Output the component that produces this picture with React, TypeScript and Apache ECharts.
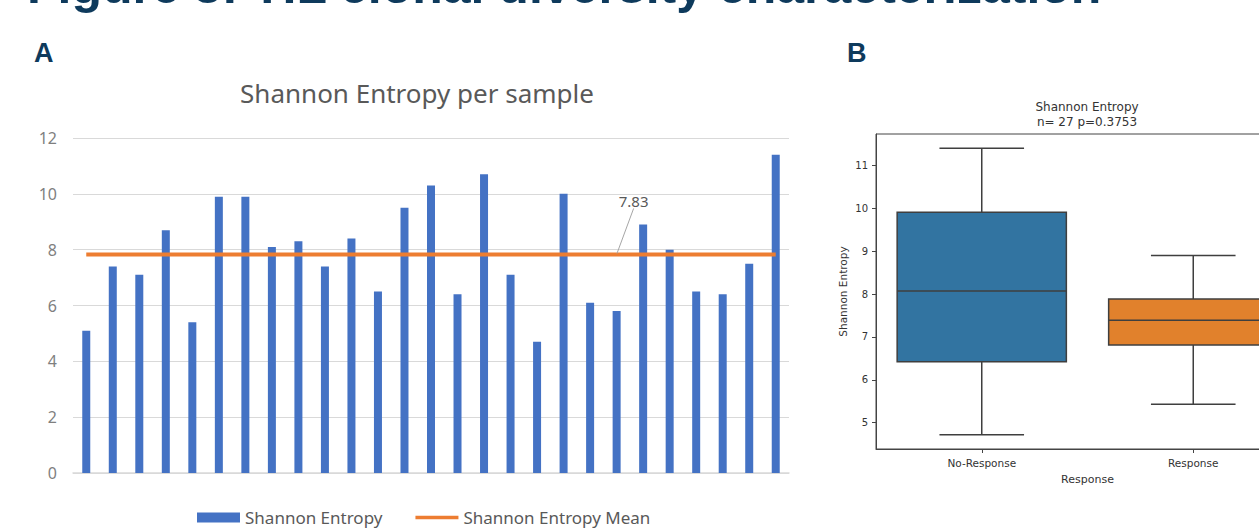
import React, { useEffect, useRef } from "react";
import * as echarts from "echarts";

// ---------- Panel A data ----------
const sampleIds: string[] = Array.from({ length: 27 }, (_, i) => `S${i + 1}`);
const entropyValues: number[] = [
  5.1, 7.4, 7.1, 8.7, 5.4, 9.9, 9.9, 8.1, 8.3, 7.4, 8.4, 6.5, 9.5, 10.3,
  6.4, 10.7, 7.1, 4.7, 10.0, 6.1, 5.8, 8.9, 8.0, 6.5, 6.4, 7.5, 11.4,
];
const entropyMean = 7.83;
const meanLabelIndex = 20;
const yTicksA: number[] = [0, 2, 4, 6, 8, 10, 12];

// ---------- Panel B data ----------
const responseGroups: string[] = ["No-Response", "Response"];
// [lowWhisker, q1, median, q3, highWhisker]
const noResponseBox: number[] = [4.72, 6.42, 8.07, 9.91, 11.4];
const responseBox: number[] = [5.43, 6.81, 7.39, 7.885, 8.9];
const yTicksB: number[] = [5, 6, 7, 8, 9, 10, 11];
const boxColors: string[] = ["#3274A1", "#E1812C"];

const FIG_TITLE = "Figure 3: TIL clonal diversity characterization";
const NAVY = "#0E3A5C";

export default function App() {
  const ref = useRef<HTMLDivElement>(null);

  useEffect(() => {
    if (!ref.current) return;
    const chart = echarts.init(ref.current, undefined, { renderer: "svg" });

    const meanData = sampleIds.map((_, i) =>
      i === meanLabelIndex
        ? {
            value: entropyMean,
            symbol: "circle",
            symbolSize: 2,
            itemStyle: { color: "rgba(0,0,0,0)" },
            label: {
              show: true,
              position: "top",
              formatter: () => entropyMean.toFixed(2),
              color: "#595959",
              fontSize: 15,
              fontFamily: "Noto Sans",
              opacity: 1,
            },
            labelLine: {
              show: true,
              lineStyle: { color: "#a6a6a6", width: 1 },
            },
          }
        : entropyMean
    );

    const boxes = [noResponseBox, responseBox];
    const allB = boxes.flat();
    const loB = Math.min(...allB);
    const hiB = Math.max(...allB);
    const padB = (hiB - loB) * 0.05;

    const option: any = {
      animation: false,
      backgroundColor: "#ffffff",
      textStyle: { fontFamily: "Noto Sans" },
      graphic: [
        {
          type: "text",
          x: 27,
          y: -14,
          style: {
            text: FIG_TITLE,
            fill: NAVY,
            font: "bold 50px 'Liberation Sans', Arial, sans-serif",
            verticalAlign: "middle",
            align: "left",
          },
        },
        {
          type: "text",
          x: 34,
          y: 53,
          style: {
            text: "A",
            fill: NAVY,
            font: "bold 27px 'Liberation Sans', Arial, sans-serif",
            verticalAlign: "middle",
          },
        },
        {
          type: "text",
          x: 847,
          y: 53,
          style: {
            text: "B",
            fill: NAVY,
            font: "bold 27px 'Liberation Sans', Arial, sans-serif",
            verticalAlign: "middle",
          },
        },
        {
          type: "text",
          x: 417,
          y: 93,
          style: {
            text: "Shannon Entropy per sample",
            fill: "#595959",
            font: "26px 'Noto Sans', sans-serif",
            align: "center",
            verticalAlign: "middle",
          },
        },
        {
          type: "text",
          x: 1087,
          y: 114,
          style: {
            text: "Shannon Entropy\nn= 27 p=0.3753",
            fill: "#333333",
            font: "12px 'DejaVu Sans', sans-serif",
            align: "center",
            verticalAlign: "middle",
            lineHeight: 15,
          },
        },
      ],
      legend: {
        left: 192,
        top: 504,
        itemWidth: 43,
        itemHeight: 10,
        itemGap: 33,
        textStyle: { fontSize: 17, color: "#595959", fontFamily: "Noto Sans" },
        data: [
          { name: "Shannon Entropy", icon: "rect" },
          { name: "Shannon Entropy Mean", icon: "path://M0,0 H46 V4 H0 Z" },
        ],
      },
      grid: [
        { left: 73, right: 531, top: 138, bottom: 55 },
        {
          left: 876,
          top: 134,
          width: 423,
          height: 315,
          show: true,
          borderColor: "#444444",
          borderWidth: 1,
        },
      ],
      xAxis: [
        {
          type: "category",
          gridIndex: 0,
          data: sampleIds,
          axisLine: { lineStyle: { color: "#d9d9d9", width: 1.5 } },
          axisTick: { show: false },
          axisLabel: { show: false },
        },
        {
          type: "category",
          gridIndex: 1,
          data: responseGroups,
          name: "Response",
          nameLocation: "middle",
          nameGap: 25,
          nameTextStyle: { color: "#333", fontSize: 11, fontFamily: "DejaVu Sans" },
          axisLine: { lineStyle: { color: "#444444", width: 1 } },
          axisTick: { show: true, alignWithLabel: true, length: 4, lineStyle: { color: "#444" } },
          axisLabel: { color: "#333", fontSize: 10.5, fontFamily: "DejaVu Sans", margin: 8 },
        },
      ],
      yAxis: [
        {
          type: "value",
          gridIndex: 0,
          min: yTicksA[0],
          max: yTicksA[yTicksA.length - 1],
          interval: 2,
          axisLine: { show: false },
          axisTick: { show: false },
          axisLabel: { color: "#7f7f7f", fontSize: 16, margin: 16, fontFamily: "Noto Sans" },
          splitLine: { lineStyle: { color: "#d9d9d9", width: 1 } },
        },
        {
          type: "value",
          gridIndex: 1,
          min: loB - padB,
          max: hiB + padB,
          name: "Shannon Entropy",
          nameLocation: "middle",
          nameGap: 28,
          nameTextStyle: { color: "#333", fontSize: 10.5, fontFamily: "DejaVu Sans" },
          axisLine: { show: true, lineStyle: { color: "#444444", width: 1 } },
          axisTick: { show: true, length: 4, customValues: yTicksB, lineStyle: { color: "#444" } },
          axisLabel: {
            color: "#333",
            fontSize: 10,
            fontFamily: "DejaVu Sans",
            margin: 8,
            customValues: yTicksB,
          },
          splitLine: { show: false },
        },
      ],
      series: [
        {
          name: "Shannon Entropy",
          type: "bar",
          xAxisIndex: 0,
          yAxisIndex: 0,
          data: entropyValues,
          barWidth: 8,
          itemStyle: { color: "#4472C4" },
        },
        {
          name: "Shannon Entropy Mean",
          type: "line",
          xAxisIndex: 0,
          yAxisIndex: 0,
          data: meanData,
          symbol: "none",
          lineStyle: { color: "#ED7D31", width: 4 },
          itemStyle: { color: "#ED7D31" },
          labelLayout: (params: any) =>
            params.dataIndex === meanLabelIndex ? { dx: 17, dy: -40 } : {},
          z: 3,
        },
        {
          type: "custom",
          xAxisIndex: 1,
          yAxisIndex: 1,
          data: boxes.map((b, i) => [i, ...b]),
          encode: { x: 0, y: [1, 2, 3, 4, 5] },
          renderItem: (params: any, api: any) => {
            const idx = api.value(0);
            const band = api.size([1, 0])[0];
            const halfBox = band * 0.4;
            const halfCap = band * 0.2;
            const pLow = api.coord([idx, api.value(1)]);
            const pQ1 = api.coord([idx, api.value(2)]);
            const pMed = api.coord([idx, api.value(3)]);
            const pQ3 = api.coord([idx, api.value(4)]);
            const pHigh = api.coord([idx, api.value(5)]);
            const cx = pMed[0];
            const edge = "#3f3f3f";
            const lw = 1.5;
            return {
              type: "group",
              children: [
                { type: "line", shape: { x1: cx, y1: pQ3[1], x2: cx, y2: pHigh[1] }, style: { stroke: edge, lineWidth: lw } },
                { type: "line", shape: { x1: cx, y1: pQ1[1], x2: cx, y2: pLow[1] }, style: { stroke: edge, lineWidth: lw } },
                { type: "line", shape: { x1: cx - halfCap, y1: pHigh[1], x2: cx + halfCap, y2: pHigh[1] }, style: { stroke: edge, lineWidth: lw } },
                { type: "line", shape: { x1: cx - halfCap, y1: pLow[1], x2: cx + halfCap, y2: pLow[1] }, style: { stroke: edge, lineWidth: lw } },
                {
                  type: "rect",
                  shape: { x: cx - halfBox, y: pQ3[1], width: halfBox * 2, height: pQ1[1] - pQ3[1] },
                  style: { fill: boxColors[idx], stroke: edge, lineWidth: lw },
                },
                { type: "line", shape: { x1: cx - halfBox, y1: pMed[1], x2: cx + halfBox, y2: pMed[1] }, style: { stroke: edge, lineWidth: lw } },
              ],
            };
          },
        },
      ],
    };

    chart.setOption(option);
    return () => chart.dispose();
  }, []);

  return (
    <div
      style={{
        position: "fixed",
        left: 0,
        top: 0,
        width: 1259,
        height: 528,
        overflow: "hidden",
        background: "#fff",
      }}
    >
      <div ref={ref} style={{ width: 1320, height: 528 }} />
    </div>
  );
}
